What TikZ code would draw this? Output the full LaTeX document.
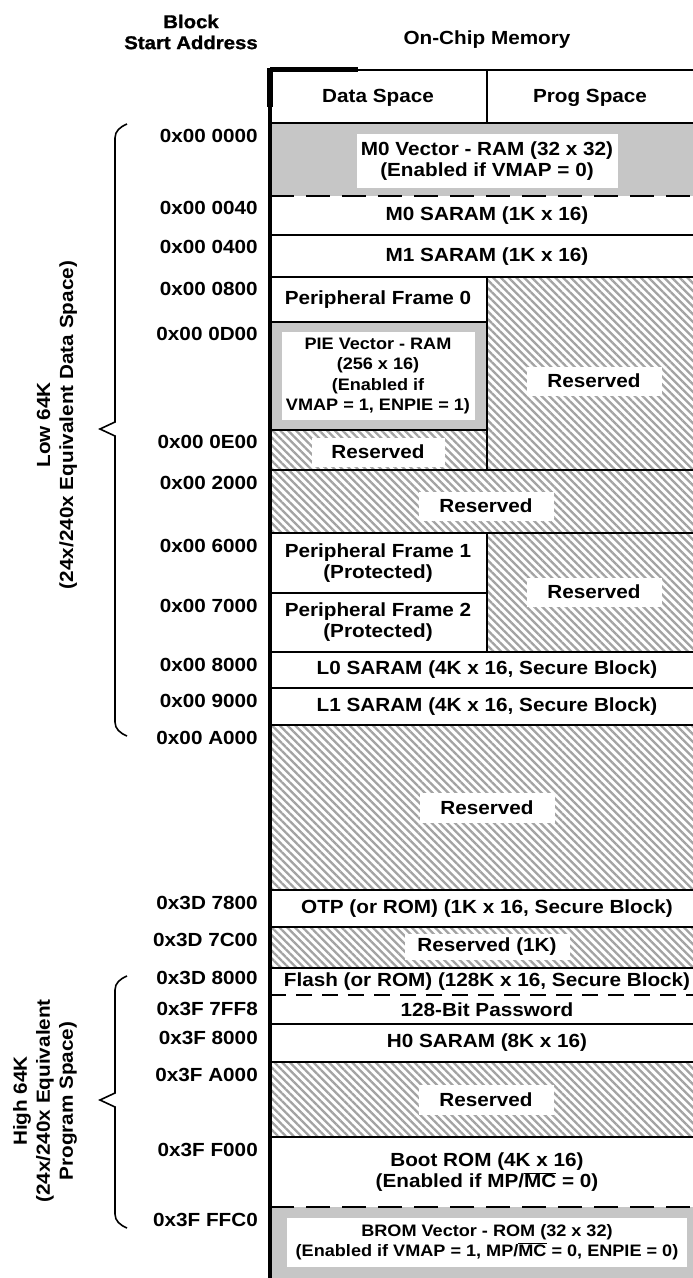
\documentclass[tikz,border=0pt]{standalone}
\usepackage{fontspec}
\newfontfamily\tbl[FakeStretch=1.09]{Liberation Sans}
\newfontfamily\hdrfont[FakeStretch=1.1,FakeBold=1.2]{Liberation Sans}
\usetikzlibrary{patterns.meta}
\begin{document}
\begin{tikzpicture}[x=1pt,y=-1pt,
  txt/.style={font=\tbl\bfseries\fontsize{19}{21.5}\selectfont, align=center, inner sep=0pt},
  smalltxt/.style={font=\tbl\bfseries\fontsize{16.6}{20.5}\selectfont, align=center, inner sep=0pt},
  addr/.style={font=\tbl\bfseries\fontsize{19}{21}\selectfont, anchor=east, inner sep=0pt},
  side/.style={font=\tbl\bfseries\fontsize{19}{23}\selectfont, align=center, inner sep=0pt, rotate=90},
  hdr/.style={font=\hdrfont\bfseries\fontsize{18.5}{22}\selectfont, align=center, inner sep=0pt},
  hatch/.style={pattern={Lines[angle=-45,distance=5.5pt,line width=2.3pt]}, pattern color=gray!72},
  vec/.style={fill=gray!45},
  rule/.style={line width=2.5pt},
  dashrule/.style={line width=2.5pt, dash pattern=on 24pt off 12pt},
  wlab/.style={txt, fill=white},
  brace/.style={line width=1.6pt}]
\useasboundingbox (0,0) rectangle (693,1278);
\fill[white] (0,0) rectangle (693,1278);

% ---------- fills ----------
\fill[vec] (270,123) rectangle (710,196);
\fill[hatch] (487,277) rectangle (710,470);
\fill[vec] (270,322) rectangle (487,430);
\fill[white] (282,332) rectangle (475,420);
\fill[hatch] (270,430) rectangle (487,470);
\fill[hatch] (270,470) rectangle (710,533);
\fill[hatch] (487,533) rectangle (710,652);
\fill[hatch] (270,725) rectangle (710,890);
\fill[hatch] (270,927) rectangle (710,968);
\fill[hatch] (270,1062) rectangle (710,1137);
\fill[vec] (270,1207) rectangle (710,1290);
\fill[white] (287,1218) rectangle (687,1267);

% ---------- solid lines ----------
\draw[rule] (270,70) -- (710,70);
\draw[line width=5pt] (270,69) -- (358,69);
\foreach \yy in {123,235,277,470,533,652,688,725,890,927,968,1024,1062,1137}
  \draw[rule] (270,\yy) -- (710,\yy);
\foreach \yy in {322,430,593}
  \draw[rule] (270,\yy) -- (487,\yy);
\draw[rule] (487,70) -- (487,123);
\draw[rule] (487,277) -- (487,470);
\draw[rule] (487,533) -- (487,652);
% ---------- dashed lines ----------
\draw[dashrule] (270,196) -- (710,196);
\draw[dashrule, dash pattern=on 16pt off 10pt] (270,995) -- (710,995);
\draw[dashrule] (270,1207) -- (710,1207);
\draw[line width=4pt] (270,68) -- (270,1278);
\draw[line width=5.5pt] (270,68) -- (270,107);

% ---------- headings ----------
\node[hdr] (blk) at (191,32) {Block\\[-1pt]Start Address};
\node[txt] (ocm) at (487,40) {On-Chip Memory};
\node[txt] (ds) at (378,98) {Data Space};
\node[txt] (ps) at (590,98) {Prog Space};

% ---------- cell texts ----------
\node[wlab, minimum width=261pt, minimum height=54pt] (m0v) at (487,161) {M0 Vector - RAM (32 x 32)\\(Enabled if VMAP = 0)};
\node[txt] (m0) at (487,216) {M0 SARAM (1K x 16)};
\node[txt] (m1) at (487,257) {M1 SARAM (1K x 16)};
\node[txt] (pf0) at (378,300) {Peripheral Frame 0};
\node[wlab, minimum width=135pt, minimum height=29pt] (r1) at (594,381) {Reserved};
\node[smalltxt] (pie) at (378,376) {PIE Vector - RAM\\(256 x 16)\\(Enabled if\\VMAP = 1, ENPIE = 1)};
\node[wlab, minimum width=133pt, minimum height=29pt] (r2) at (378,452) {Reserved};
\node[wlab, minimum width=135pt, minimum height=29pt] (r3) at (486,506) {Reserved};
\node[txt] (pf1) at (378,563) {Peripheral Frame 1\\(Protected)};
\node[txt] (pf2) at (378,622) {Peripheral Frame 2\\(Protected)};
\node[wlab, minimum width=135pt, minimum height=29pt] (r4) at (594,592) {Reserved};
\node[txt] (l0) at (487,670) {L0 SARAM (4K x 16, Secure Block)};
\node[txt] (l1) at (487,707) {L1 SARAM (4K x 16, Secure Block)};
\node[wlab, minimum width=135pt, minimum height=30pt] (r5) at (487,808) {Reserved};
\node[txt] (otp) at (487,909) {OTP (or ROM) (1K x 16, Secure Block)};
\node[wlab, minimum width=165pt, minimum height=26pt] (r6) at (487,947) {Reserved (1K)};
\node[txt] (fl) at (487,982) {Flash (or ROM) (128K x 16, Secure Block)};
\node[txt] (pw) at (487,1010) {128-Bit Password};
\node[txt] (h0) at (487,1043) {H0 SARAM (8K x 16)};
\node[wlab, minimum width=135pt, minimum height=30pt] (r7) at (486,1100) {Reserved};
\node[txt] (boot) at (487,1172) {Boot ROM (4K x 16)\\(Enabled if MP/$\overline{\mbox{MC}}$ = 0)};
\node[smalltxt] (brom) at (487,1242) {BROM Vector - ROM (32 x 32)\\(Enabled if VMAP = 1, MP/$\overline{\mbox{MC}}$ = 0, ENPIE = 0)};

% ---------- addresses ----------
\node[addr] (a01) at (258,136) {0x00 0000};
\node[addr] (a02) at (258,208) {0x00 0040};
\node[addr] (a03) at (258,247) {0x00 0400};
\node[addr] (a04) at (258,289) {0x00 0800};
\node[addr] (a05) at (258,334) {0x00 0D00};
\node[addr] (a06) at (258,442) {0x00 0E00};
\node[addr] (a07) at (258,483) {0x00 2000};
\node[addr] (a08) at (258,546) {0x00 6000};
\node[addr] (a09) at (258,606) {0x00 7000};
\node[addr] (a10) at (258,665) {0x00 8000};
\node[addr] (a11) at (258,701) {0x00 9000};
\node[addr] (a12) at (258,738) {0x00 A000};
\node[addr] (a13) at (258,903) {0x3D 7800};
\node[addr] (a14) at (258,940) {0x3D 7C00};
\node[addr] (a15) at (258,978) {0x3D 8000};
\node[addr] (a16) at (258,1009) {0x3F 7FF8};
\node[addr] (a17) at (258,1038) {0x3F 8000};
\node[addr] (a18) at (258,1075) {0x3F A000};
\node[addr] (a19) at (258,1150) {0x3F F000};
\node[addr] (a20) at (258,1220) {0x3F FFC0};

% ---------- braces ----------
\draw[brace] (127,124) .. controls (120,127) and (115,131) .. (115,138) -- (115,422) -- (100,429) -- (115,436) -- (115,722) .. controls (115,729) and (120,733) .. (127,736);
\draw[brace] (127,976) .. controls (120,979) and (115,983) .. (115,990) -- (115,1093) -- (100,1100) -- (115,1107) -- (115,1214) .. controls (115,1221) and (120,1225) .. (127,1228);
\node[side] (low) at (57,425) {Low 64K\\(24x/240x Equivalent Data Space)};
\node[side] (high) at (45,1101) {High 64K\\(24x/240x Equivalent\\Program Space)};
\end{tikzpicture}
\end{document}
